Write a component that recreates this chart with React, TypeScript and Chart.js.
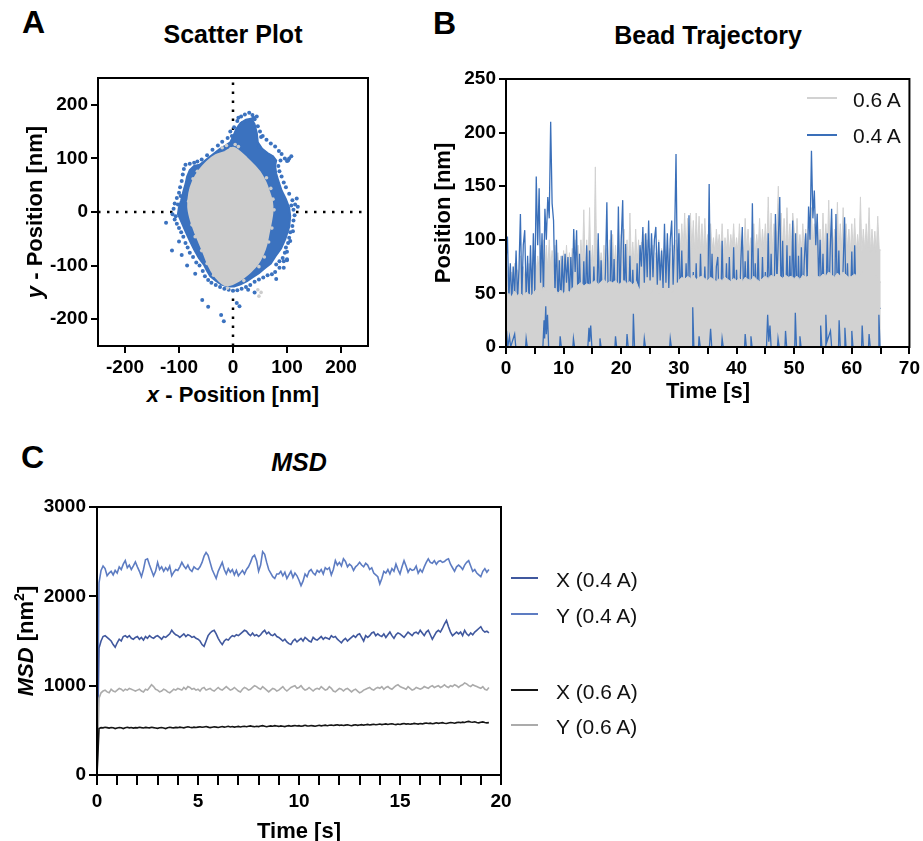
import React, { useEffect, useRef } from 'react';
import { Chart, registerables } from 'chart.js';
Chart.register(...registerables);

const FONT = '"Liberation Sans", Arial, Helvetica, sans-serif';

// ---------------- Panel A : Scatter Plot ----------------
const scatterRange = [-250, 250];
const scatterTicks = [-200, -100, 0, 100, 200];
const grayBlobOutline = [
  [-15, 112], [0, 120], [12, 113], [25, 101], [38, 88], [50, 74], [60, 56], [66, 40], [72, 20], [73, 0],
  [70, -20], [66, -40], [62, -60], [55, -80], [45, -98], [32, -112], [20, -122], [8, -130], [-5, -136],
  [-16, -136], [-26, -128], [-36, -116], [-45, -100], [-53, -80], [-62, -58], [-71, -36], [-79, -12],
  [-83, 10], [-81, 35], [-74, 58], [-62, 78], [-48, 94], [-32, 106], [-15, 112],
];
const blueBlobOutline = [
  [-100, 10], [-96, 22], [-92, 38], [-88, 52], [-85, 66], [-80, 78], [-72, 86], [-62, 88], [-54, 94],
  [-44, 102], [-34, 110], [-24, 118], [-14, 124], [-5, 130], [0, 140], [6, 155], [14, 166], [24, 172],
  [34, 174], [40, 164], [44, 148], [46, 130], [54, 118], [64, 110], [74, 104], [80, 96], [78, 86],
  [80, 72], [84, 58], [90, 40], [98, 24], [104, 8], [106, -8], [104, -28], [97, -50], [89, -68],
  [79, -82], [70, -96], [60, -104], [48, -114], [36, -122], [26, -129], [14, -135], [2, -139], [-10, -139],
  [-22, -135], [-32, -128], [-42, -120], [-48, -110], [-54, -98], [-63, -86], [-72, -70], [-80, -54],
  [-88, -36], [-95, -20], [-102, -4], [-100, 10],
];
const blueFringePoints = [
  [-5, 150], [2, 158], [8, 170], [15, 178], [22, 182], [30, 185], [36, 181], [40, 173], [46, 160], [50, 150],
  [38, 176], [26, 170], [18, 166], [-2, 142], [-10, 138], [-20, 131], [-28, 124], [-38, 116], [-48, 106],
  [-58, 98], [-66, 94], [-72, 92], [-80, 90], [44, 178], [10, 176], [52, 140], [48, 122],
  [55, 142], [62, 135], [70, 128], [78, 122], [85, 114], [90, 108], [96, 100], [100, 95], [104, 100],
  [88, 96], [84, 86], [86, 76], [90, 66], [94, 55], [98, 46], [104, 34], [110, 22], [115, 14], [118, 25],
  [112, 4], [114, -6], [112, -16], [110, -26], [106, -38], [104, -48], [102, -58], [98, -66], [96, -76],
  [92, -86], [86, -92], [80, -98], [100, -88], [94, -104], [78, -112], [72, -116], [64, -118], [56, -122],
  [48, -126], [40, -130], [32, -136], [24, -140], [16, -143], [8, -146], [0, -147], [-8, -145], [-16, -143],
  [80, -125], [40, -150], [28, -145], [108, 12], [111, -36], [106, -54], [100, -74], [94, -92], [86, -104],
  [-24, -140], [-32, -136], [-40, -132], [-46, -127], [-52, -120], [-56, -110], [-62, -100], [-68, -94],
  [-74, -84], [-80, -76], [-84, -66], [-88, -58], [-92, -46], [-96, -38], [-100, -30], [-104, -22],
  [-108, -14], [-112, -4], [-110, 6], [-108, 16], [-104, 26], [-100, 36], [-98, 46], [-95, 58], [-93, 70],
  [-91, 80], [-88, 88], [-106, -8], [-102, 14], [-97, 30],
  [-124, -20], [-113, -72], [-100, -55], [-95, -80], [-85, -100], [-57, -164], [-46, -177], [-17, -204],
  [-22, -192], [7, -170], [12, -176], [-70, -115], [100, -90], [120, 10], [102, 96], [108, 104],
];
const grayStrayPoints = [
  [46, -145], [48, -157], [52, -150], [-4, 118], [-12, 124], [4, 126], [-20, 120], [10, 122],
  [-78, 40], [-82, 20], [-74, 62], [-66, 76], [62, 64], [70, 44], [74, 24], [76, 4], [72, -30],
  [66, -56], [58, -84], [48, -102], [-58, -72], [-48, -96], [-36, -118], [-70, -46], [-76, -24],
  [20, -128], [-10, -142],
];

// ---------------- Panel B : Bead Trajectory ----------------
const trajStep = 0.25; // s between samples of the traces below
const blueTrace = [
  80, 103, 45, 78, 42, 75, 48, 90, 44, 72, 124, 46, 95, 109, 45, 85, 42, 95, 48, 106,
  50, 159, 95, 148, 60, 106, 48, 129, 100, 140, 120, 210, 134, 118, 50, 100, 40, 81, 38, 85,
  48, 87, 60, 84, 46, 84, 50, 110, 70, 109, 38, 87, 36, 36, 80, 38, 95, 36, 90, 36,
  36, 75, 36, 36, 106, 36, 81, 36, 36, 70, 135, 40, 36, 109, 36, 82, 36, 36, 131, 40,
  100, 137, 40, 96, 36, 36, 85, 36, 72, 36, 36, 78, 40, 95, 75, 112, 60, 106, 65, 118,
  62, 106, 65, 100, 112, 58, 98, 62, 90, 55, 115, 60, 106, 55, 100, 118, 58, 100, 180, 60,
  106, 40, 90, 36, 36, 78, 36, 123, 36, 36, 70, 36, 78, 36, 36, 87, 36, 36, 75, 36,
  36, 152, 40, 87, 36, 36, 75, 84, 36, 36, 99, 36, 36, 78, 36, 84, 36, 36, 93, 36,
  72, 36, 36, 80, 112, 40, 80, 36, 90, 36, 36, 134, 36, 78, 36, 92, 36, 36, 84, 36,
  70, 36, 106, 36, 87, 36, 36, 124, 60, 100, 140, 40, 99, 36, 36, 95, 36, 85, 36, 118,
  40, 106, 36, 85, 36, 93, 36, 80, 106, 60, 131, 100, 183, 120, 146, 95, 124, 60, 100, 45,
  87, 36, 36, 106, 36, 90, 129, 40, 36, 124, 40, 90, 36, 36, 75, 121, 36, 78, 36, 36,
  89, 36, 95, 36, 36, 36, 36, 36, 36, 36, 36, 36, 36, 36, 36, 36, 36, 36, 36, 36,
  36,
];
const grayTrace = [
  85, 65, 75, 68, 70, 62, 78, 66, 72, 64, 85, 68, 75, 66, 70, 64, 78, 68, 72, 65,
  90, 70, 85, 72, 95, 70, 100, 74, 95, 72, 100, 74, 90, 72, 95, 74, 88, 70, 85, 72,
  90, 72, 95, 70, 88, 74, 92, 72, 100, 74, 95, 72, 100, 75, 128, 72, 100, 74, 130, 72,
  95, 74, 168, 72, 100, 75, 88, 72, 95, 74, 92, 75, 100, 72, 105, 74, 95, 72, 110, 75,
  105, 76, 110, 78, 100, 74, 125, 78, 98, 75, 110, 78, 100, 76, 98, 74, 105, 76, 100, 74,
  92, 72, 95, 70, 88, 74, 100, 72, 92, 74, 95, 70, 100, 74, 92, 72, 95, 74, 100, 72,
  110, 90, 115, 92, 125, 88, 120, 94, 125, 92, 118, 88, 125, 92, 122, 90, 115, 88, 120, 92,
  105, 86, 115, 90, 102, 88, 110, 92, 105, 88, 115, 86, 102, 90, 110, 88, 105, 92, 115, 88,
  102, 88, 115, 92, 98, 88, 120, 90, 110, 88, 102, 92, 115, 88, 105, 90, 120, 88, 110, 92,
  115, 90, 140, 92, 125, 88, 115, 92, 110, 150, 92, 125, 90, 120, 88, 130, 92, 115, 88, 125,
  110, 88, 120, 90, 105, 88, 115, 92, 110, 88, 120, 90, 130, 92, 115, 88, 125, 90, 110, 88,
  125, 90, 115, 92, 137, 88, 120, 90, 110, 92, 135, 88, 115, 90, 130, 88, 115, 92, 110, 88,
  115, 90, 120, 88, 105, 92, 140, 88, 110, 90, 115, 92, 130, 88, 110, 90, 108, 88, 122, 92,
  90,
];
const grayCoreStep = 0.5;
const grayCore = [
  45, 50, 47, 52, 48, 50, 47, 51, 49, 48,
  52, 55, 50, 56, 52, 54, 52, 55, 50, 53,
  50, 53, 51, 55, 56, 58, 60, 57, 59, 58,
  60, 62, 58, 61, 63, 59, 61, 60, 62, 58,
  60, 62, 59, 61, 58, 62, 55, 52, 54, 52,
  50, 53, 52, 49, 54, 51, 53, 50, 52, 54,
  62, 65, 63, 66, 64, 67, 63, 65, 66, 64,
  62, 65, 63, 61, 64, 62, 65, 63, 61, 64,
  62, 64, 61, 65, 63, 62, 66, 63, 61, 64,
  66, 64, 67, 65, 68, 66, 64, 67, 65, 66,
  64, 66, 63, 67, 65, 66, 68, 64, 66, 65,
  68, 66, 70, 67, 65, 69, 66, 70, 67, 65,
  66, 68, 65, 67, 70, 66, 64, 67, 68, 65,
  60,
];
const blueLowSpikes = [
  [0, 0], [0.1, 15], [0.3, 0], [0.6, 10], [0.8, 0], [1.5, 12], [1.7, 0], [3.4, 0], [3.5, 8], [3.7, 0],
  [6.4, 0], [6.6, 25], [6.7, 8], [6.9, 38], [7.0, 12], [7.2, 30], [7.4, 0], [9.3, 0], [9.4, 10], [9.6, 0],
  [11.6, 0], [11.7, 8], [11.9, 0], [14.2, 0], [14.4, 18], [14.5, 5], [14.7, 20], [14.9, 0], [16.2, 0],
  [16.3, 8], [16.5, 0], [18.9, 0], [19.0, 10], [19.2, 0], [20.9, 0], [21.0, 12], [21.2, 0], [22.0, 0],
  [22.1, 31], [22.3, 0], [23.9, 0], [24.0, 8], [24.2, 0], [28.4, 0], [28.5, 8], [28.7, 0], [32.3, 0],
  [32.4, 37], [32.6, 0], [33.4, 0], [33.5, 10], [33.7, 0], [35.3, 0], [35.5, 17], [35.7, 0], [37.4, 0],
  [37.5, 8], [37.7, 0], [41.4, 0], [41.5, 12], [41.7, 0], [42.4, 0], [42.5, 10], [42.7, 0], [45.2, 0],
  [45.4, 30], [45.6, 5], [45.8, 20], [46.0, 0], [47.1, 0], [47.2, 8], [47.4, 0], [48.4, 0], [48.5, 15],
  [48.7, 0], [50.1, 0], [50.2, 32], [50.4, 0], [50.9, 0], [51.0, 10], [51.2, 0], [54.5, 0], [54.6, 20],
  [54.8, 0], [55.4, 0], [55.5, 30], [55.7, 5], [56.3, 15], [56.5, 0], [57.7, 0], [57.8, 25], [58.0, 0],
  [58.7, 0], [58.8, 18], [59.0, 0], [59.9, 0], [60.0, 15], [60.2, 0], [61.7, 0], [61.8, 20], [62.0, 0],
  [62.9, 0], [63.0, 12], [63.2, 0], [64.6, 0], [64.7, 30], [64.9, 0],
];
const trajXTicks = [0, 5, 10, 15, 20, 25, 30, 35, 40, 45, 50, 55, 60, 65, 70];
const trajYTicks = [0, 50, 100, 150, 200, 250];

// ---------------- Panel C : MSD ----------------
const msdStep = 0.1; // s
const msdY04 = [
  0, 2150, 2290, 2340, 2310, 2230, 2260, 2280, 2240, 2290,
  2260, 2330, 2300, 2360, 2400, 2320, 2350, 2300, 2340, 2385,
  2330, 2280, 2220, 2300, 2410, 2420, 2350, 2290, 2230, 2280,
  2380, 2300, 2330, 2280, 2320, 2290, 2340, 2230, 2270, 2300,
  2290, 2330, 2380, 2340, 2310, 2350, 2300, 2280, 2330, 2310,
  2300, 2330, 2380, 2450, 2490, 2460, 2380, 2300, 2250, 2200,
  2280, 2330, 2380, 2300, 2250, 2310, 2270, 2300, 2240, 2290,
  2230, 2260, 2290, 2250, 2300, 2330, 2380, 2440, 2460, 2400,
  2280, 2350, 2500, 2470, 2380, 2300, 2260, 2220, 2200, 2250,
  2250, 2280, 2230, 2270, 2200, 2240, 2280, 2210, 2260, 2230,
  2180, 2120, 2170, 2250, 2220, 2280, 2300, 2260, 2240, 2290,
  2270, 2300, 2250, 2320, 2300, 2320, 2240, 2300, 2400, 2350,
  2380, 2340, 2420, 2390, 2330, 2360, 2340, 2290, 2330, 2350,
  2380, 2350, 2330, 2370, 2350, 2300, 2320, 2260, 2240, 2220,
  2140, 2200, 2280, 2260, 2300, 2250, 2310, 2280, 2360, 2300,
  2250, 2330, 2400, 2340, 2270, 2310, 2290, 2300, 2340, 2260,
  2300, 2270, 2330, 2380, 2420, 2380, 2370, 2400, 2360, 2390,
  2400, 2380, 2390, 2410, 2420, 2360, 2320, 2280, 2330, 2350,
  2330, 2300, 2350, 2380, 2400, 2340, 2280, 2300, 2260, 2240,
  2220, 2280, 2310, 2270, 2300,
];
const msdX04 = [
  0, 1420, 1500, 1550, 1560, 1540, 1520, 1500, 1460, 1430,
  1480, 1520, 1500, 1550, 1560, 1540, 1560, 1530, 1520, 1540,
  1550, 1520, 1540, 1510, 1550, 1530, 1560, 1540, 1530, 1550,
  1560, 1540, 1520, 1550, 1540, 1560, 1580, 1620, 1590, 1570,
  1560, 1540, 1560, 1580, 1550, 1570, 1560, 1540, 1550, 1530,
  1520, 1500, 1460, 1440, 1500, 1560, 1590, 1610, 1620, 1580,
  1530, 1490, 1460, 1500, 1520, 1510, 1540, 1560, 1550, 1570,
  1560, 1580, 1600, 1620, 1610, 1580, 1560, 1590, 1560, 1570,
  1550, 1570, 1600, 1620, 1580, 1600, 1570, 1560, 1580, 1550,
  1540, 1520, 1500, 1520, 1490, 1470, 1460, 1500, 1520, 1490,
  1510, 1530, 1500, 1540, 1520, 1500, 1490, 1540, 1520, 1510,
  1530, 1550, 1520, 1540, 1530, 1520, 1560, 1540, 1550, 1520,
  1500, 1480, 1510, 1530, 1500, 1520, 1540, 1560, 1540, 1570,
  1580, 1540, 1500, 1560, 1540, 1560, 1590, 1600, 1560, 1580,
  1560, 1550, 1580, 1540, 1570, 1600, 1560, 1530, 1570, 1590,
  1580, 1560, 1540, 1570, 1600, 1580, 1560, 1590, 1600, 1580,
  1620, 1590, 1560, 1600, 1620, 1570, 1520, 1560, 1600, 1620,
  1600, 1640, 1690, 1730, 1660, 1600, 1560, 1580, 1600, 1580,
  1600, 1560, 1620, 1580, 1560, 1590, 1570, 1600, 1620, 1640,
  1660, 1620, 1600, 1610, 1590,
];
const msdY06 = [
  0, 860, 920, 940, 950, 930, 920, 960, 940, 930,
  950, 970, 960, 940, 960, 950, 970, 960, 950, 940,
  950, 960, 940, 930, 960, 950, 980, 1010, 990, 960,
  950, 930, 940, 960, 950, 930, 920, 940, 960, 950,
  970, 960, 950, 980, 960, 990, 980, 960, 970, 950,
  960, 940, 970, 980, 950, 960, 970, 950, 940, 960,
  980, 960, 950, 970, 990, 970, 950, 960, 980, 960,
  940, 930, 960, 980, 970, 950, 960, 980, 1000, 990,
  970, 960, 990, 970, 950, 930, 950, 970, 960, 940,
  950, 970, 990, 960, 940, 960, 980, 990, 1000, 970,
  980, 1000, 970, 950, 960, 980, 960, 940, 960, 970,
  960, 990, 970, 950, 960, 990, 970, 940, 930, 950,
  970, 960, 940, 960, 970, 950, 930, 950, 960, 940,
  920, 930, 950, 960, 970, 980, 960, 950, 970, 980,
  970, 990, 960, 980, 990, 970, 960, 980, 1000, 1010,
  990, 980, 970, 960, 990, 970, 950, 960, 980, 970,
  960, 970, 990, 980, 970, 990, 1000, 980, 990, 1000,
  980, 990, 1010, 990, 980, 1000, 990, 1010, 1000, 980,
  1000, 1010, 1030, 1020, 1000, 990, 1010, 1000, 990, 980,
  970, 990, 960, 950, 980,
];
const msdX06 = [
  0, 520, 530, 528, 535, 530, 525, 532, 528, 520,
  526, 532, 528, 520, 530, 535, 528, 532, 525, 530,
  528, 535, 530, 526, 533, 530, 528, 535, 530, 526,
  522, 528, 532, 526, 520, 528, 534, 530, 528, 533,
  530, 536, 532, 528, 535, 540, 534, 530, 536, 532,
  536, 540, 534, 538, 542, 536, 530, 535, 540, 536,
  532, 538, 542, 536, 540, 545, 538, 542, 536, 540,
  544, 538, 542, 546, 540, 545, 550, 544, 540, 546,
  542, 548, 552, 546, 540, 545, 550, 546, 552, 548,
  544, 550, 546, 542, 548, 552, 546, 550, 554, 548,
  552, 546, 550, 556, 550, 548, 554, 550, 546, 552,
  556, 550, 554, 558, 552, 556, 560, 554, 558, 562,
  556, 560, 554, 558, 562, 556, 552, 558, 562, 556,
  560, 564, 558, 562, 566, 560, 564, 568, 562, 566,
  570, 564, 568, 572, 566, 570, 574, 568, 564, 570,
  566, 572, 576, 570, 574, 568, 572, 578, 574, 570,
  576, 572, 578, 582, 576, 580, 574, 578, 584, 578,
  582, 586, 580, 576, 582, 588, 584, 580, 586, 590,
  586, 592, 588, 596, 600, 594, 590, 596, 588, 584,
  590, 594, 588, 584, 586,
];
const msdXTicks = [0, 1, 2, 3, 4, 5, 6, 7, 8, 9, 10, 11, 12, 13, 14, 15, 16, 17, 18, 19, 20];
const msdYTicks = [0, 1000, 2000, 3000];
const msdLegend = ['X (0.4 A)', 'Y (0.4 A)', 'X (0.6 A)', 'Y (0.6 A)'];

// ---------------- colours ----------------
const SC_BLUE = '#3b72bf';
const SC_GRAY = '#cdcdcd';
const TR_BLUE = '#3a6fb9';
const TR_GRAY = '#d2d2d2';
const C_X04 = '#40589e';
const C_Y04 = '#5d7cc2';
const C_X06 = '#151515';
const C_Y06 = '#ababab';

// ---------------- helpers ----------------
const pairsToPts = (arr) => arr.map(([x, y]) => ({ x, y }));
const seriesToPts = (vals, step) => vals.map((y, i) => ({ x: i * step, y }));

const framePlugin = {
  id: 'frame',
  afterDatasetsDraw(chart) {
    const { ctx, chartArea: a } = chart;
    ctx.save();
    ctx.strokeStyle = '#000';
    ctx.lineWidth = 2;
    ctx.strokeRect(a.left, a.top, a.right - a.left, a.bottom - a.top);
    ctx.restore();
  },
};

function makeAxis(min, max, ticks, o) {
  return {
    type: 'linear',
    min,
    max,
    afterBuildTicks: (s) => {
      s.ticks = ticks.map((v) => ({ value: v }));
    },
    afterFit: (s) => {
      if (o.w != null) s.width = o.w;
      if (o.h != null) s.height = o.h;
    },
    grid: {
      drawOnChartArea: false,
      drawTicks: true,
      tickLength: o.tickLength,
      tickWidth: 2,
      tickColor: '#000',
      color: '#000',
      lineWidth: 2,
    },
    border: { display: true, color: '#000', width: 2 },
    ticks: {
      autoSkip: false,
      maxRotation: 0,
      minRotation: 0,
      padding: o.padding,
      color: '#000',
      font: { family: FONT, size: 19, weight: 'bold' },
      callback: o.label || ((v) => String(v)),
    },
  };
}

function baseOptions(pad, scales) {
  return {
    responsive: true,
    maintainAspectRatio: false,
    animation: false,
    events: [],
    layout: { padding: { top: pad.top, right: pad.right, left: 0, bottom: 0 } },
    plugins: { legend: { display: false }, tooltip: { enabled: false } },
    elements: { point: { radius: 0 }, line: { tension: 0 } },
    scales,
  };
}

function configA() {
  return {
    type: 'line',
    data: {
      datasets: [
        {
          data: pairsToPts(grayStrayPoints), showLine: false, pointRadius: 1.8,
          pointBackgroundColor: SC_GRAY, pointBorderWidth: 0, order: 0,
        },
        {
          data: pairsToPts(grayBlobOutline), borderColor: SC_GRAY, backgroundColor: SC_GRAY,
          borderWidth: 2, fill: 'shape', pointRadius: 0, tension: 0.3, order: 1,
        },
        {
          data: pairsToPts(blueFringePoints), showLine: false, pointRadius: 2,
          pointBackgroundColor: SC_BLUE, pointBorderWidth: 0, order: 2,
        },
        {
          data: pairsToPts(blueBlobOutline), borderColor: SC_BLUE, backgroundColor: SC_BLUE,
          borderWidth: 2, fill: 'shape', pointRadius: 0, order: 3,
        },
        {
          data: [{ x: 0, y: scatterRange[0] }, { x: 0, y: scatterRange[1] }],
          borderColor: '#000', borderWidth: 2.5, borderDash: [2.5, 6.5], pointRadius: 0, order: 4,
        },
        {
          data: [{ x: scatterRange[0], y: 0 }, { x: scatterRange[1], y: 0 }],
          borderColor: '#000', borderWidth: 2.5, borderDash: [2.5, 6.5], pointRadius: 0, order: 5,
        },
      ],
    },
    options: baseOptions({ top: 18, right: 17 }, {
      x: makeAxis(scatterRange[0], scatterRange[1], scatterTicks, { h: 34, tickLength: 7, padding: 3 }),
      y: makeAxis(scatterRange[0], scatterRange[1], scatterTicks, { w: 98, tickLength: 7, padding: 3 }),
    }),
    plugins: [framePlugin],
  };
}

function configB() {
  return {
    type: 'line',
    data: {
      datasets: [
        {
          data: pairsToPts(blueLowSpikes), borderColor: TR_BLUE, borderWidth: 1.3,
          pointRadius: 0, fill: false, order: 0,
        },
        {
          data: seriesToPts(grayCore, grayCoreStep), borderColor: TR_GRAY, backgroundColor: TR_GRAY,
          borderWidth: 1, pointRadius: 0, fill: 'origin', order: 1,
        },
        {
          data: seriesToPts(blueTrace, trajStep), borderColor: TR_BLUE, borderWidth: 1.3,
          pointRadius: 0, fill: false, order: 2,
        },
        {
          data: seriesToPts(grayTrace, trajStep), borderColor: TR_GRAY, backgroundColor: TR_GRAY,
          borderWidth: 1, pointRadius: 0, fill: 'origin', order: 3,
        },
      ],
    },
    options: baseOptions({ top: 19, right: 13 }, {
      x: makeAxis(0, 70, trajXTicks, {
        h: 33, tickLength: 7, padding: 3, label: (v) => (v % 10 === 0 ? String(v) : ''),
      }),
      y: makeAxis(0, 250, trajYTicks, { w: 86, tickLength: 7, padding: 3 }),
    }),
    plugins: [framePlugin],
  };
}

function configC() {
  const line = (vals, color, order) => ({
    data: seriesToPts(vals, msdStep), borderColor: color, borderWidth: 1.6,
    pointRadius: 0, fill: false, order,
  });
  return {
    type: 'line',
    data: {
      datasets: [
        line(msdX06, C_X06, 0),
        line(msdY06, C_Y06, 1),
        line(msdX04, C_X04, 2),
        line(msdY04, C_Y04, 3),
      ],
    },
    options: baseOptions({ top: 17, right: 19 }, {
      x: makeAxis(0, 20, msdXTicks, {
        h: 66, tickLength: 10, padding: 5, label: (v) => (v % 5 === 0 ? String(v) : ''),
      }),
      y: makeAxis(0, 3000, msdYTicks, { w: 97, tickLength: 8, padding: 3 }),
    }),
    plugins: [framePlugin],
  };
}

function ChartBox({ left, top, width, height, make }) {
  const ref = useRef(null);
  useEffect(() => {
    const chart = new Chart(ref.current, make());
    return () => chart.destroy();
  }, []);
  return (
    <div style={{ position: 'absolute', left, top, width, height }}>
      <canvas ref={ref} />
    </div>
  );
}

// text whose cap-top sits at y
function Txt({ x, y, size, children, bold = true, italic = false, align = 'left', width = 400, color = '#000' }) {
  const left = align === 'center' ? x - width / 2 : x;
  return (
    <div
      style={{
        position: 'absolute', left, top: y - 0.13 * size, width, height: size,
        lineHeight: size + 'px', fontSize: size, fontFamily: FONT,
        fontWeight: bold ? 'bold' : 'normal', fontStyle: italic ? 'italic' : 'normal',
        textAlign: align, whiteSpace: 'nowrap', color,
      }}
    >
      {children}
    </div>
  );
}

// vertical text (reads bottom to top); capX = x of the cap tops, cy = vertical centre
function VTxt({ capX, cy, size, children, width = 300 }) {
  const cx = capX + size / 2 - 0.13 * size;
  return (
    <div
      style={{
        position: 'absolute', left: cx - width / 2, top: cy - size / 2, width, height: size,
        lineHeight: size + 'px', fontSize: size, fontFamily: FONT, fontWeight: 'bold',
        textAlign: 'center', whiteSpace: 'nowrap', transform: 'rotate(-90deg)', color: '#000',
      }}
    >
      {children}
    </div>
  );
}

function LegendLine({ x1, x2, y, color, w = 2 }) {
  return (
    <div style={{ position: 'absolute', left: x1, top: y - w / 2, width: x2 - x1, height: w, background: color }} />
  );
}

export default function App() {
  const cLegendY = [578, 614, 690, 725];
  const cLegendColors = [C_X04, C_Y04, C_X06, C_Y06];
  return (
    <div style={{ position: 'absolute', left: 0, top: 0, width: 923, height: 841, background: '#fff', overflow: 'hidden' }}>
      <ChartBox left={0} top={60} width={385} height={320} make={configA} />
      <ChartBox left={420} top={60} width={503} height={320} make={configB} />
      <ChartBox left={0} top={490} width={520} height={351} make={configC} />

      {/* Panel A texts */}
      <Txt x={22} y={10} size={32}>A</Txt>
      <Txt x={233} y={25} size={25} align="center">Scatter Plot</Txt>
      <Txt x={233} y={387} size={22} align="center"><i>x</i> - Position [nm]</Txt>
      <VTxt capX={27} cy={212} size={22}><i>y</i> - Position [nm]</VTxt>

      {/* Panel B texts */}
      <Txt x={433} y={11} size={32}>B</Txt>
      <Txt x={708} y={26} size={25} align="center">Bead Trajectory</Txt>
      <Txt x={708} y={383} size={22} align="center">Time [s]</Txt>
      <VTxt capX={435} cy={213} size={22}>Position [nm]</VTxt>
      <LegendLine x1={807} x2={837} y={98} color={TR_GRAY} w={1.5} />
      <LegendLine x1={807} x2={837} y={135} color={TR_BLUE} w={2} />
      <Txt x={853} y={92} size={21} bold={false} color="#111">0.6 A</Txt>
      <Txt x={853} y={128} size={21} bold={false} color="#111">0.4 A</Txt>

      {/* Panel C texts */}
      <Txt x={21} y={445} size={32}>C</Txt>
      <Txt x={299} y={453} size={25} align="center" italic>MSD</Txt>
      <Txt x={299} y={823} size={22} align="center">Time [s]</Txt>
      <VTxt capX={18} cy={641} size={22}>
        <i>MSD</i> [nm<sup style={{ fontSize: 14, lineHeight: 0, verticalAlign: '9px' }}>2</sup>]
      </VTxt>
      {msdLegend.map((label, i) => (
        <React.Fragment key={label}>
          <LegendLine x1={511} x2={538} y={cLegendY[i]} color={cLegendColors[i]} w={2} />
          <Txt x={556} y={cLegendY[i] - 6.5} size={21} bold={false} color="#111">{label}</Txt>
        </React.Fragment>
      ))}
    </div>
  );
}
